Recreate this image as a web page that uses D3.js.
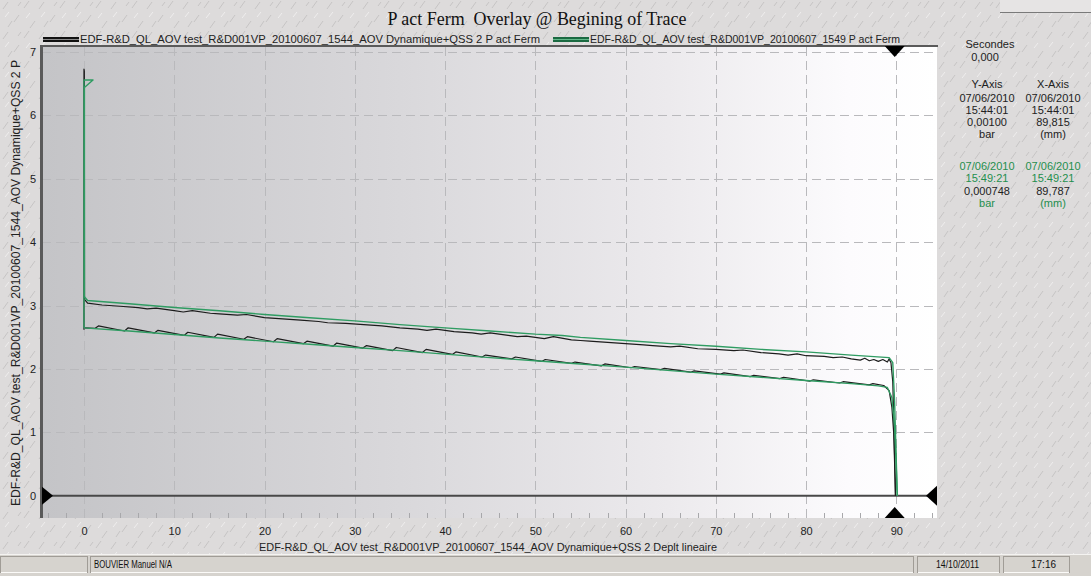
<!DOCTYPE html>
<html>
<head>
<meta charset="utf-8">
<script src="https://cdn.jsdelivr.net/npm/d3@7"></script>
<style>
  html, body { margin: 0; padding: 0; background: #dedcdc; }
  svg { display: block; font-family: "Liberation Sans", Arial, sans-serif; }
</style>
</head>
<body>
<svg id="viz" width="1091" height="576"></svg>
<script>
// tick labels
const xTicks = [0, 10, 20, 30, 40, 50, 60, 70, 80, 90];
const yTicks = [0, 1, 2, 3, 4, 5, 6, 7];
const xMinor = [-4, -2, 2, 4, 6, 8, 12, 14, 16, 18, 22, 24, 26, 28, 32, 34, 36, 38, 42, 44, 46, 48, 52, 54, 56, 58, 62, 64, 66, 68, 72, 74, 76, 78, 82, 84, 86, 88, 92, 94];

// texts
const title = 'P act Ferm  Overlay @ Begining of Trace';
const seriesNames = [
	'EDF-R&D_QL_AOV test_R&D001VP_20100607_1544_AOV Dynamique+QSS 2 P act Ferm',
	'EDF-R&D_QL_AOV test_R&D001VP_20100607_1549 P act Ferm'
];
const xTitle = 'EDF-R&D_QL_AOV test_R&D001VP_20100607_1544_AOV Dynamique+QSS 2 Deplt lineaire';
const yTitle = 'EDF-R&D_QL_AOV test_R&D001VP_20100607_1544_AOV Dynamique+QSS 2 P';

// cursor readout (x = 89.815 mm, y = 0.001 bar)
const cursor = [89.815, 0.001];
const readoutHead = ['Secondes', '0,000'];
const readoutCols = ['Y-Axis', 'X-Axis'];
const readout1 = [['07/06/2010', '07/06/2010'], ['15:44:01', '15:44:01'], ['0,00100', '89,815'], ['bar', '(mm)']];
const readout2 = [['07/06/2010', '07/06/2010'], ['15:49:21', '15:49:21'], ['0,000748', '89,787'], ['bar', '(mm)']];
const statusText = ['BOUVIER  Manuel  N/A', '14/10/2011', '17:16'];

// series 1544 (black): spike, lower branch, upper branch  [Deplt mm, P bar]
const blackSpike = [[0.0, 2.62], [0.0, 6.73], [0.04, 6.70], [0.06, 3.10]];
const blackLower = [
	[0.1, 2.65], [1.2, 2.64], [1.6, 2.68], [4.5, 2.60], [4.9, 2.65], [7.8, 2.57], [8.2, 2.61],
	[11.1, 2.53], [11.5, 2.58], [14.4, 2.50], [14.8, 2.55], [17.7, 2.47], [18.1, 2.51],
	[21.0, 2.43], [21.4, 2.48], [24.3, 2.40], [24.7, 2.44], [27.6, 2.36], [28.0, 2.41],
	[30.9, 2.33], [31.3, 2.37], [34.2, 2.29], [34.6, 2.34], [37.5, 2.26], [37.9, 2.31],
	[40.8, 2.23], [41.2, 2.27], [44.1, 2.19], [44.5, 2.22], [47.4, 2.16], [47.8, 2.19],
	[50.7, 2.12], [51.1, 2.15], [54.0, 2.09], [54.4, 2.11], [57.3, 2.05], [57.7, 2.08],
	[60.6, 2.02], [61.0, 2.04], [63.9, 1.99], [64.3, 2.01], [67.2, 1.95], [67.6, 1.97],
	[70.5, 1.92], [70.9, 1.94], [73.8, 1.88], [74.2, 1.90], [77.1, 1.85], [77.5, 1.87],
	[80.4, 1.81], [80.8, 1.83], [83.7, 1.78], [84.1, 1.80], [87.0, 1.75], [87.4, 1.77],
	[88.6, 1.74], [89.2, 1.66], [89.5, 1.40], [89.7, 1.00], [89.85, 0.30], [89.9, 0.0]
];
const blackUpper = [
	[0.06, 3.10], [0.4, 3.04], [2, 3.01], [4, 2.99], [6, 2.97], [7, 2.95], [8, 2.96], [10, 2.92],
	[11, 2.90], [12, 2.92], [14, 2.88], [15, 2.87], [17, 2.85], [18, 2.86], [20, 2.81], [22, 2.79],
	[24, 2.77], [26, 2.75], [27, 2.73], [29, 2.72], [31, 2.70], [33, 2.68], [35, 2.65], [37, 2.63],
	[38, 2.61], [39, 2.63], [41, 2.59], [43, 2.57], [44, 2.55], [45, 2.57], [47, 2.53], [48, 2.51],
	[49, 2.52], [50, 2.50], [51, 2.48], [52, 2.51], [54, 2.46], [55, 2.45], [56, 2.44], [58, 2.42],
	[60, 2.40], [62, 2.38], [63, 2.37], [65, 2.35], [66, 2.36], [68, 2.32], [70, 2.31], [72, 2.29],
	[73, 2.30], [75, 2.26], [77, 2.24], [78, 2.22], [79, 2.24], [80, 2.21], [82, 2.20], [83, 2.18],
	[84, 2.19], [85, 2.16], [86, 2.14], [86.5, 2.17], [87, 2.13], [87.5, 2.15], [88, 2.12],
	[88.5, 2.15], [89, 2.11], [89.2, 2.16], [89.4, 2.10], [89.6, 1.80], [89.75, 1.00],
	[89.85, 0.30], [89.9, 0.0]
];

// series 1549 (green)
const greenSpike = [[0.05, 3.14], [0.05, 6.44], [1.0, 6.56], [0.0, 6.56], [0.0, 2.65]];
const greenLower = [
	[0.0, 2.65], [5, 2.60], [10, 2.545], [15, 2.49], [20, 2.44], [25, 2.39], [30, 2.34],
	[35, 2.29], [40, 2.235], [45, 2.18], [50, 2.13], [55, 2.08], [60, 2.03], [65, 1.975],
	[70, 1.92], [75, 1.87], [80, 1.82], [85, 1.77], [88, 1.735], [89, 1.71], [89.5, 1.55],
	[89.8, 1.10], [90.0, 0.40], [90.1, 0.0]
];
const greenUpper = [
	[0.05, 3.14], [0.4, 3.08], [5, 3.03], [10, 2.97], [15, 2.92], [20, 2.86], [25, 2.81],
	[30, 2.76], [35, 2.70], [40, 2.65], [45, 2.60], [50, 2.55], [53, 2.53], [55, 2.50],
	[60, 2.45], [65, 2.40], [70, 2.36], [75, 2.31], [80, 2.27], [85, 2.22], [89.2, 2.18],
	[89.6, 2.10], [89.8, 1.50], [90.0, 0.50], [90.1, 0.0]
];

const BLACK = '#1c1c1c';
const GREEN = '#2f9c62';
const GREEN_TXT = '#1f8f4e';

const svg = d3.select('#viz');
const W = 1091, H = 576;
const plot = { left: 42, right: 937, top: 47, bottom: 518 };

const defs = svg.append('defs');

// textured window background
const pat = defs.append('pattern')
	.attr('id', 'tex')
	.attr('width', 36).attr('height', 30)
	.attr('patternUnits', 'userSpaceOnUse');
pat.append('rect').attr('width', 36).attr('height', 30).attr('fill', '#dddbdb');
[[3, 9, 8, 2], [14, 22, 19, 15], [24, 8, 29, 1], [30, 28, 35, 21], [8, 27, 12, 21], [18, 6, 21, 2]]
	.forEach(s => pat.append('line')
		.attr('x1', s[0]).attr('y1', s[1]).attr('x2', s[2]).attr('y2', s[3])
		.attr('stroke', '#c6c4c4').attr('stroke-width', 1));
[[5, 17, 9, 12], [26, 18, 30, 13]]
	.forEach(s => pat.append('line')
		.attr('x1', s[0]).attr('y1', s[1]).attr('x2', s[2]).attr('y2', s[3])
		.attr('stroke', '#efeeee').attr('stroke-width', 1));

const grad = defs.append('linearGradient')
	.attr('id', 'plotbg')
	.attr('x1', 0).attr('x2', 1).attr('y1', 0).attr('y2', 0);
[[0, '#c4c4c7'], [0.4, '#d9d8db'], [0.7, '#eceaed'], [0.9, '#fcfbfd'], [1, '#ffffff']]
	.forEach(s => grad.append('stop').attr('offset', s[0]).attr('stop-color', s[1]));

svg.append('rect').attr('width', W).attr('height', H).attr('fill', 'url(#tex)');

// small box top right
svg.append('rect').attr('x', 1000).attr('y', 0).attr('width', 91).attr('height', 12).attr('fill', '#e6e4e4');
svg.append('line').attr('x1', 1000).attr('x2', 1091).attr('y1', 12.5).attr('y2', 12.5).attr('stroke', '#7a7a7a');

const x = d3.scaleLinear().domain([-4.65, 94.5]).range([plot.left, plot.right]);
const y = d3.scaleLinear().domain([-0.35, 7.08]).range([plot.bottom, plot.top]);

// plot area
svg.append('rect')
	.attr('x', plot.left).attr('y', plot.top)
	.attr('width', plot.right - plot.left).attr('height', plot.bottom - plot.top)
	.attr('fill', 'url(#plotbg)');

// grid
const grid = svg.append('g').attr('stroke', '#b9b9bc').attr('stroke-dasharray', '9,5').attr('stroke-width', 1);
grid.selectAll('line.v')
	.data(xTicks)
	.enter()
		.append('line')
		.attr('x1', d => Math.round(x(d)) + 0.5).attr('x2', d => Math.round(x(d)) + 0.5)
		.attr('y1', plot.top).attr('y2', plot.bottom);
grid.selectAll('line.h')
	.data(yTicks.filter(d => d > 0))
	.enter()
		.append('line')
		.attr('x1', plot.left).attr('x2', plot.right)
		.attr('y1', d => Math.round(y(d)) + 0.5).attr('y2', d => Math.round(y(d)) + 0.5);

// minor ticks on bottom edge
svg.append('g')
	.selectAll('line')
	.data(xMinor)
	.enter()
		.append('line')
		.attr('x1', d => Math.round(x(d)) + 0.5).attr('x2', d => Math.round(x(d)) + 0.5)
		.attr('y1', plot.bottom - 5).attr('y2', plot.bottom)
		.attr('stroke', '#a8a8ab');

// zero line
svg.append('line')
	.attr('x1', plot.left).attr('x2', plot.right)
	.attr('y1', y(0)).attr('y2', y(0))
	.attr('stroke', '#484848').attr('stroke-width', 2);

// frame
svg.append('line')
	.attr('x1', plot.left - 1).attr('x2', plot.right + 1)
	.attr('y1', plot.top - 1).attr('y2', plot.top - 1)
	.attr('stroke', '#5a5a5a').attr('stroke-width', 2);
svg.append('line')
	.attr('x1', plot.left - 0.5).attr('x2', plot.left - 0.5)
	.attr('y1', plot.top - 2).attr('y2', plot.bottom)
	.attr('stroke', '#5a5a5a').attr('stroke-width', 3);

// series
const line = d3.line().x(d => x(d[0])).y(d => y(d[1]));
const series = [
	{ data: [blackSpike, blackLower, blackUpper], color: BLACK, width: 1.2 },
	{ data: [greenSpike, greenLower, greenUpper], color: GREEN, width: 1.4 }
];
series.forEach(s => {
	svg.append('g')
		.selectAll('path')
		.data(s.data)
		.enter()
			.append('path')
			.attr('d', line)
			.attr('fill', 'none')
			.attr('stroke', s.color)
			.attr('stroke-width', s.width)
			.attr('stroke-linejoin', 'round');
});

// cursor markers
const y0 = y(0), cx = x(cursor[0]);
const markers = [
	[[plot.left, y0 - 9], [plot.left + 11, y0], [plot.left, y0 + 9]],
	[[plot.right, y0 - 10], [plot.right - 11, y0], [plot.right, y0 + 10]],
	[[cx - 10, plot.top - 1], [cx + 10, plot.top - 1], [cx, plot.top + 10]],
	[[cx - 10, plot.bottom], [cx + 10, plot.bottom], [cx, plot.bottom - 11]]
];
svg.append('g')
	.selectAll('path')
	.data(markers)
	.enter()
		.append('path')
		.attr('d', d => 'M' + d.join('L') + 'Z')
		.attr('fill', '#000');

// axes
const xAxis = svg.append('g')
	.attr('transform', `translate(0,${plot.bottom})`)
	.call(d3.axisBottom(x).tickValues(xTicks).tickSize(0).tickPadding(9));
const yAxis = svg.append('g')
	.attr('transform', `translate(${plot.left},0)`)
	.call(d3.axisLeft(y).tickValues(yTicks).tickSize(0).tickPadding(6));
[xAxis, yAxis].forEach(a => {
	a.select('.domain').remove();
	a.selectAll('text')
		.style('font-family', '"Liberation Sans", Arial, sans-serif')
		.style('font-size', '11px')
		.attr('fill', '#222');
});

// axis titles
svg.append('text')
	.attr('x', 488).attr('y', 551)
	.attr('text-anchor', 'middle')
	.attr('font-size', 11).attr('fill', '#222')
	.attr('textLength', 458).attr('lengthAdjust', 'spacingAndGlyphs')
	.text(xTitle);
svg.append('text')
	.attr('transform', 'translate(20,283) rotate(-90)')
	.attr('text-anchor', 'middle')
	.attr('font-size', 12).attr('fill', '#222')
	.attr('textLength', 446).attr('lengthAdjust', 'spacingAndGlyphs')
	.text(yTitle);

// title
svg.append('text')
	.attr('x', 537).attr('y', 25)
	.attr('text-anchor', 'middle')
	.style('font-family', '"Liberation Serif", "Times New Roman", serif')
	.attr('font-size', 18).attr('fill', '#111')
	.attr('textLength', 299).attr('lengthAdjust', 'spacingAndGlyphs')
	.style('white-space', 'pre')
	.text(title);

// legend
const legend = [
	{ x: 43, tx: 80, w: 460, dark: '#111', light: '#8a8a8a', name: seriesNames[0] },
	{ x: 553, tx: 590, w: 310, dark: '#1b6a42', light: '#63b98b', name: seriesNames[1] }
];
const lg = svg.append('g')
	.selectAll('g')
	.data(legend)
	.enter()
		.append('g');
lg.append('rect')
	.attr('x', d => d.x).attr('y', 37).attr('width', 36).attr('height', 5)
	.attr('fill', d => d.dark);
lg.append('line')
	.attr('x1', d => d.x).attr('x2', d => d.x + 36)
	.attr('y1', 39.5).attr('y2', 39.5)
	.attr('stroke', d => d.light).attr('stroke-width', 1);
lg.append('text')
	.attr('x', d => d.tx).attr('y', 43)
	.attr('font-size', 11).attr('fill', '#222')
	.attr('textLength', d => d.w).attr('lengthAdjust', 'spacingAndGlyphs')
	.text(d => d.name);

// readout panel
const panel = svg.append('g').attr('font-size', 11).attr('text-anchor', 'middle');
panel.append('text').attr('x', 990).attr('y', 48).attr('fill', '#222').text(readoutHead[0]);
panel.append('text').attr('x', 985).attr('y', 61).attr('fill', '#222').text(readoutHead[1]);
const colX = [987, 1053];
readoutCols.forEach((t, i) => panel.append('text').attr('x', colX[i]).attr('y', 88).attr('fill', '#222').text(t));
readout1.forEach((row, r) => row.forEach((t, i) =>
	panel.append('text').attr('x', colX[i]).attr('y', 102 + r * 12).attr('fill', '#222').text(t)));
readout2.forEach((row, r) => row.forEach((t, i) =>
	panel.append('text').attr('x', colX[i]).attr('y', 170 + r * 12.3)
		.attr('fill', r === 2 ? '#222' : GREEN_TXT).text(t)));

// status bar
const sb = svg.append('g');
sb.append('rect').attr('x', 0).attr('y', 554).attr('width', W).attr('height', 22).attr('fill', '#d6d3ce');
sb.append('line').attr('x1', 0).attr('x2', W).attr('y1', 554.5).attr('y2', 554.5).attr('stroke', '#f4f3f1');
const cells = [[0, 88], [90, 914], [917, 1000], [1003, 1070]];
cells.forEach(c => {
	sb.append('rect')
		.attr('x', c[0] + 0.5).attr('y', 556.5).attr('width', c[1] - c[0] - 1).attr('height', 16)
		.attr('fill', 'none').attr('stroke', '#a09c96');
	sb.append('line')
		.attr('x1', c[0] + 1).attr('x2', c[1] - 1).attr('y1', 572.5).attr('y2', 572.5).attr('stroke', '#fbfaf8');
});
sb.append('text').attr('x', 94).attr('y', 568).attr('font-size', 10).attr('fill', '#111')
	.attr('textLength', 78).attr('lengthAdjust', 'spacingAndGlyphs').text(statusText[0]);
sb.append('text').attr('x', 936).attr('y', 568).attr('font-size', 10).attr('fill', '#111')
	.attr('textLength', 43).attr('lengthAdjust', 'spacingAndGlyphs').text(statusText[1]);
sb.append('text').attr('x', 1031).attr('y', 568).attr('font-size', 10).attr('fill', '#111')
	.attr('textLength', 25).attr('lengthAdjust', 'spacingAndGlyphs').text(statusText[2]);
</script>
</body>
</html>
